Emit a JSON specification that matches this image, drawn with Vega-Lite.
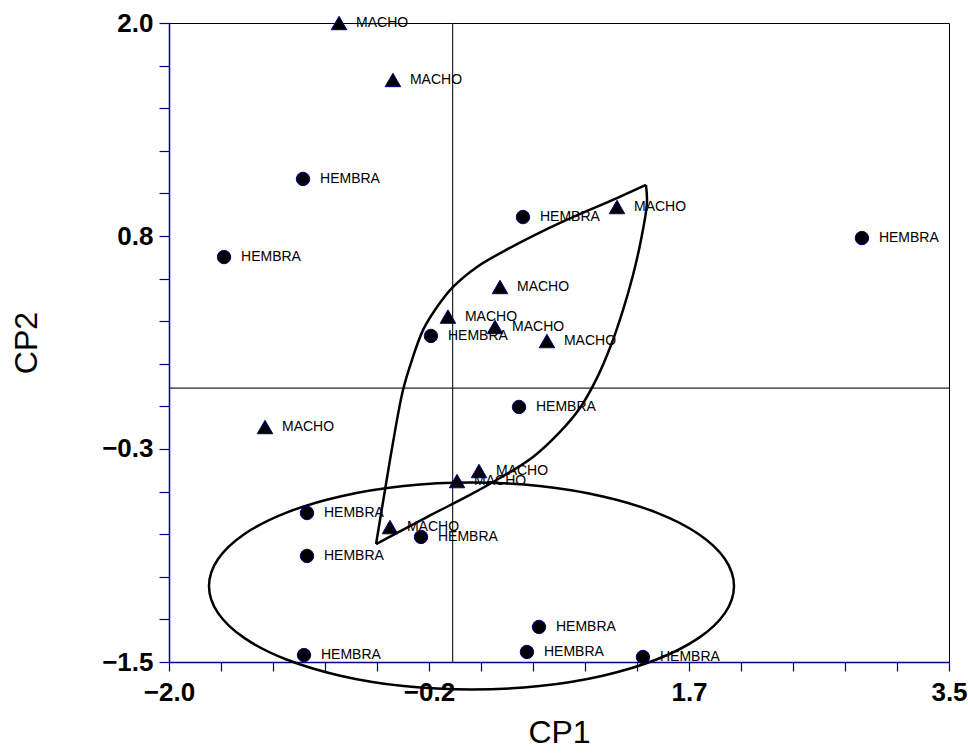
{
  "$schema": "https://vega.github.io/schema/vega-lite/v6.json",
  "width": 780,
  "height": 639,
  "autosize": {"type": "none"},
  "padding": {"left": 169, "top": 23, "right": 19, "bottom": 94},
  "background": "white",
  "config": {
    "view": {"stroke": "black", "strokeWidth": 1},
    "axis": {
      "grid": false,
      "domainColor": "#000090",
      "domainWidth": 1.5,
      "tickColor": "#000090",
      "tickWidth": 1.2,
      "labelFont": "Liberation Sans",
      "labelFontWeight": "bold",
      "labelFontSize": 26,
      "labelColor": "black",
      "titleFont": "Liberation Sans",
      "titleFontWeight": "normal",
      "titleFontSize": 32,
      "titleColor": "black",
      "labelOverlap": false,
      "labelFlush": false,
      "labelBound": false
    }
  },
  "datasets": {
    "cross": [
      {"x": 0, "y": -1.5, "x2": 0, "y2": 2},
      {"x": -2, "y": 0, "x2": 3.5, "y2": 0}
    ],
    "ellipse": [
      {"i": 0, "x": 1.984, "y": -1.084},
      {"i": 1, "x": 1.921, "y": -0.937},
      {"i": 2, "x": 1.736, "y": -0.800},
      {"i": 3, "x": 1.442, "y": -0.683},
      {"i": 4, "x": 1.059, "y": -0.593},
      {"i": 5, "x": 0.612, "y": -0.536},
      {"i": 6, "x": 0.133, "y": -0.517},
      {"i": 7, "x": -0.346, "y": -0.536},
      {"i": 8, "x": -0.793, "y": -0.593},
      {"i": 9, "x": -1.176, "y": -0.683},
      {"i": 10, "x": -1.470, "y": -0.800},
      {"i": 11, "x": -1.655, "y": -0.937},
      {"i": 12, "x": -1.718, "y": -1.084},
      {"i": 13, "x": -1.655, "y": -1.231},
      {"i": 14, "x": -1.470, "y": -1.368},
      {"i": 15, "x": -1.176, "y": -1.485},
      {"i": 16, "x": -0.793, "y": -1.575},
      {"i": 17, "x": -0.346, "y": -1.632},
      {"i": 18, "x": 0.133, "y": -1.651},
      {"i": 19, "x": 0.612, "y": -1.632},
      {"i": 20, "x": 1.059, "y": -1.575},
      {"i": 21, "x": 1.442, "y": -1.485},
      {"i": 22, "x": 1.736, "y": -1.368},
      {"i": 23, "x": 1.921, "y": -1.231}
    ],
    "hull": [
      {"seg": "a", "i": 0, "x": -0.540, "y": -0.854},
      {"seg": "a", "i": 1, "x": -0.477, "y": -0.558},
      {"seg": "a", "i": 2, "x": -0.421, "y": -0.300},
      {"seg": "a", "i": 3, "x": -0.350, "y": -0.010},
      {"seg": "a", "i": 4, "x": -0.287, "y": 0.154},
      {"seg": "a", "i": 5, "x": -0.209, "y": 0.318},
      {"seg": "a", "i": 6, "x": -0.110, "y": 0.444},
      {"seg": "a", "i": 7, "x": 0.003, "y": 0.554},
      {"seg": "a", "i": 8, "x": 0.172, "y": 0.664},
      {"seg": "a", "i": 9, "x": 0.404, "y": 0.768},
      {"seg": "a", "i": 10, "x": 0.757, "y": 0.905},
      {"seg": "a", "i": 11, "x": 1.159, "y": 1.041},
      {"seg": "a", "i": 12, "x": 1.363, "y": 1.113},
      {"seg": "b", "i": 0, "x": 1.363, "y": 1.113},
      {"seg": "b", "i": 1, "x": 1.370, "y": 1.014},
      {"seg": "b", "i": 2, "x": 1.328, "y": 0.811},
      {"seg": "b", "i": 3, "x": 1.272, "y": 0.620},
      {"seg": "b", "i": 4, "x": 1.201, "y": 0.428},
      {"seg": "b", "i": 5, "x": 1.117, "y": 0.236},
      {"seg": "b", "i": 6, "x": 1.018, "y": 0.056},
      {"seg": "b", "i": 7, "x": 0.898, "y": -0.109},
      {"seg": "b", "i": 8, "x": 0.757, "y": -0.240},
      {"seg": "b", "i": 9, "x": 0.567, "y": -0.377},
      {"seg": "b", "i": 10, "x": 0.334, "y": -0.492},
      {"seg": "b", "i": 11, "x": 0.122, "y": -0.585},
      {"seg": "b", "i": 12, "x": -0.181, "y": -0.706},
      {"seg": "b", "i": 13, "x": -0.540, "y": -0.854}
    ],
    "points": [
      {"sexo": "MACHO", "x": -0.801, "y": 2.0},
      {"sexo": "MACHO", "x": -0.421, "y": 1.688},
      {"sexo": "HEMBRA", "x": -1.055, "y": 1.146},
      {"sexo": "HEMBRA", "x": 0.496, "y": 0.937},
      {"sexo": "MACHO", "x": 1.159, "y": 0.992},
      {"sexo": "HEMBRA", "x": 2.886, "y": 0.822},
      {"sexo": "HEMBRA", "x": -1.612, "y": 0.718},
      {"sexo": "MACHO", "x": 0.334, "y": 0.554},
      {"sexo": "MACHO", "x": -0.033, "y": 0.392},
      {"sexo": "HEMBRA", "x": -0.153, "y": 0.286},
      {"sexo": "MACHO", "x": 0.299, "y": 0.335},
      {"sexo": "MACHO", "x": 0.665, "y": 0.258},
      {"sexo": "HEMBRA", "x": 0.468, "y": -0.103},
      {"sexo": "MACHO", "x": -1.323, "y": -0.213},
      {"sexo": "MACHO", "x": 0.186, "y": -0.454},
      {"sexo": "MACHO", "x": 0.031, "y": -0.509},
      {"sexo": "HEMBRA", "x": -1.027, "y": -0.684},
      {"sexo": "MACHO", "x": -0.442, "y": -0.761},
      {"sexo": "HEMBRA", "x": -0.223, "y": -0.815},
      {"sexo": "HEMBRA", "x": -1.027, "y": -0.919},
      {"sexo": "HEMBRA", "x": 0.609, "y": -1.308},
      {"sexo": "HEMBRA", "x": 0.524, "y": -1.445},
      {"sexo": "HEMBRA", "x": -1.048, "y": -1.462},
      {"sexo": "HEMBRA", "x": 1.342, "y": -1.473}
    ]
  },
  "encoding": {
    "x": {
      "field": "x",
      "type": "quantitative",
      "scale": {"domain": [-2, 3.5], "nice": false, "zero": false},
      "axis": {
        "title": "CP1",
        "values": [-2, -1.633333, -1.266667, -0.9, -0.533333, -0.166667, 0.2, 0.566667, 0.933333, 1.3, 1.666667, 2.033333, 2.4, 2.766667, 3.133333, 3.5],
        "labelExpr": "round((datum.value + 2) / 0.3666667) % 5 == 0 ? format(datum.value, '.1f') : ''",
        "tickSize": 9,
        "labelPadding": 8,
        "titlePadding": 12
      }
    },
    "y": {
      "field": "y",
      "type": "quantitative",
      "scale": {"domain": [-1.5, 2], "nice": false, "zero": false},
      "axis": {
        "title": "CP2",
        "values": [2, 1.766667, 1.533333, 1.3, 1.066667, 0.833333, 0.6, 0.366667, 0.133333, -0.1, -0.333333, -0.566667, -0.8, -1.033333, -1.266667, -1.5],
        "labelExpr": "round((2 - datum.value) / 0.2333333) % 5 == 0 ? format(datum.value, '.1f') : ''",
        "tickSize": 10,
        "labelPadding": 6,
        "titlePadding": 58
      }
    }
  },
  "layer": [
    {
      "data": {"name": "cross"},
      "mark": {"type": "rule", "color": "#222222", "strokeWidth": 1.2},
      "encoding": {"x2": {"field": "x2"}, "y2": {"field": "y2"}}
    },
    {
      "data": {"name": "ellipse"},
      "mark": {"type": "line", "interpolate": "cardinal-closed", "color": "black", "strokeWidth": 2.5},
      "encoding": {"order": {"field": "i", "type": "quantitative"}}
    },
    {
      "data": {"name": "hull"},
      "mark": {"type": "line", "interpolate": "catmull-rom", "color": "black", "strokeWidth": 2.5},
      "encoding": {"detail": {"field": "seg", "type": "nominal"}, "order": {"field": "i", "type": "quantitative"}}
    },
    {
      "data": {"name": "points"},
      "mark": {"type": "point", "filled": true, "fill": "black", "stroke": "#000080", "strokeWidth": 1, "opacity": 1},
      "encoding": {
        "shape": {"field": "sexo", "type": "nominal", "scale": {"domain": ["HEMBRA", "MACHO"], "range": ["circle", "triangle-up"]}, "legend": null},
        "size": {"field": "sexo", "type": "ordinal", "scale": {"domain": ["HEMBRA", "MACHO"], "range": [180, 240]}, "legend": null}
      }
    },
    {
      "data": {"name": "points"},
      "mark": {"type": "text", "align": "left", "baseline": "middle", "dx": 17, "font": "Liberation Sans", "fontSize": 14, "color": "black"},
      "encoding": {"text": {"field": "sexo", "type": "nominal"}}
    }
  ]
}
